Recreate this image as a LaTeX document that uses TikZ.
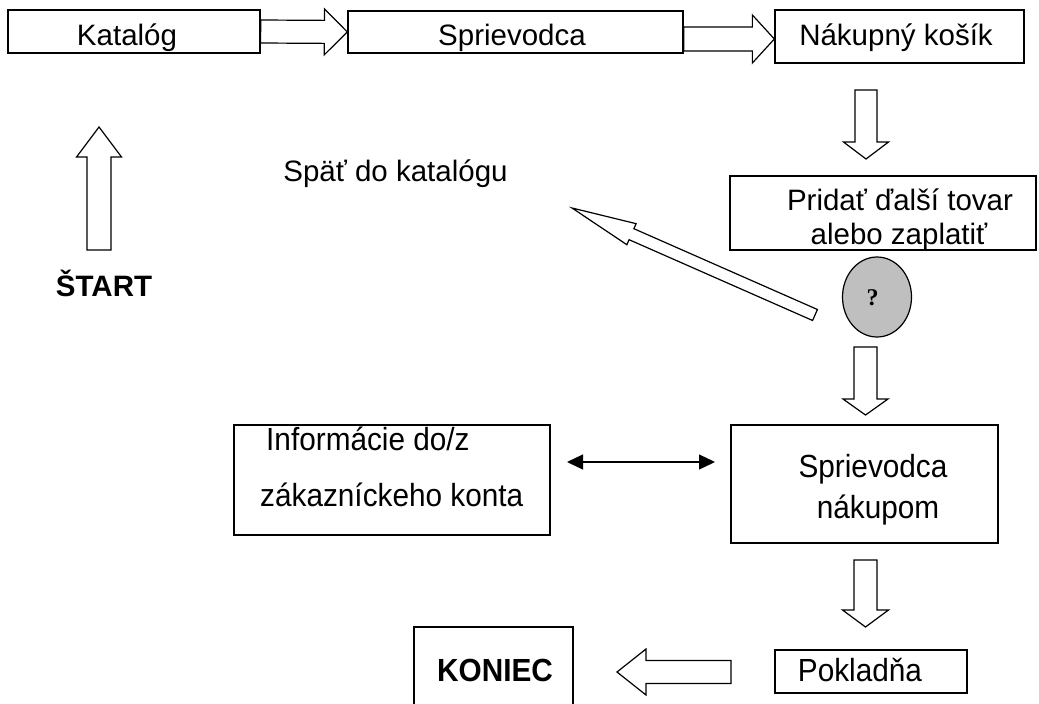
\documentclass[tikz,border=0pt]{standalone}
\usepackage{fontspec}
\setmainfont{Liberation Sans}
\newfontfamily\lowfont[FakeStretch=0.93]{Liberation Sans}
\newfontfamily\qfont{Liberation Serif}
\usetikzlibrary{calc,arrows.meta,shapes.geometric}

\tikzset{
  box/.style={draw, line width=1.3pt, fill=white, inner sep=0pt, rectangle},
  txt/.style={inner sep=0pt, text height=21.1pt, text depth=0pt, font=\fontsize{29.5}{34}\selectfont},
  lowtxt/.style={inner sep=0pt, text height=22.9pt, text depth=0pt, font=\lowfont\fontsize{32}{38}\selectfont},
  barrow/.style={draw, line width=1.2pt, fill=white, line join=miter},
  dblarrow/.style={line width=1.2pt, {Triangle[length=16pt,width=15pt]}-{Triangle[length=16pt,width=15pt]}},
  qnode/.style={ellipse, draw, line width=1.2pt, fill=black!25, inner sep=0pt},
}

% block arrow: from, to, shaft half width, head half width, head length
\newcommand{\blockarr}[5]{%
  \coordinate (hb) at ($(#2)!#5!(#1)$);
  \draw[barrow] ($(#1)!#3!90:(#2)$) -- ($(hb)!#3!90:(#2)$) -- ($(hb)!#4!90:(#2)$) -- (#2)
    -- ($(hb)!#4!-90:(#2)$) -- ($(hb)!#3!-90:(#2)$) -- ($(#1)!#3!-90:(#2)$) -- cycle;
}

\begin{document}
\begin{tikzpicture}[x=1pt,y=-1pt]
\useasboundingbox (0,0) rectangle (1039,704);
\clip (0,0) rectangle (1039,704);

% boxes
\node[box, minimum width=252pt, minimum height=43pt] (kat) at (134,31.5) {};
\node[box, minimum width=335pt, minimum height=42pt] (spr) at (515.5,32) {};
\node[box, minimum width=249pt, minimum height=53pt] (nak) at (899.5,36.5) {};
\node[box, minimum width=306pt, minimum height=74pt] (prid) at (883,213) {};
\node[qnode, minimum width=69pt, minimum height=80pt] (q) at (877,297) {};
\node[box, minimum width=316pt, minimum height=110pt] (info) at (392,480) {};
\node[box, minimum width=267pt, minimum height=118pt] (sprn) at (864.5,484) {};
\node[box, minimum width=192pt, minimum height=43pt] (pok) at (871,671.5) {};
\node[box, minimum width=159pt, minimum height=93pt] (kon) at (493.5,673.5) {};

% texts
\node[txt] (tkat) at (127,35) {Katalóg};
\node[txt] (tspr) at (512,35) {Sprievodca};
\node[txt] (tnak) at (896,35) {Nákupný košík};
\node[txt] (tspat) at (395.5,171) {Späť do katalógu};
\node[txt, font=\bfseries\fontsize{29.5}{34}\selectfont] (tstart) at (104,285.5) {ŠTART};
\node[txt] (tprid1) at (900,200) {Pridať ďalší tovar};
\node[txt] (tprid2) at (899,234) {alebo zaplatiť};
\node[inner sep=0pt, font=\qfont\bfseries\fontsize{24}{28}\selectfont] (tq) at (872.5,297.5) {?};
\node[lowtxt, anchor=west] (tinfo1) at (266,439) {Informácie do/z};
\node[lowtxt, anchor=west] (tinfo2) at (260,495) {zákazníckeho konta};
\node[lowtxt] (tsprn1) at (873,466) {Sprievodca};
\node[lowtxt] (tsprn2) at (878,507) {nákupom};
\node[lowtxt] (tpok) at (860,670) {Pokladňa};
\node[lowtxt, font=\lowfont\bfseries\fontsize{32}{38}\selectfont] (tkon) at (495,670) {KONIEC};

% arrow end points
\coordinate (a2s) at ([yshift=-7pt]spr.east);
\coordinate (a2e) at ([yshift=-2.5pt]nak.west);
\coordinate (a3s) at (866,90);
\coordinate (a3e) at (866,159);
\coordinate (a4s) at (99,250);
\coordinate (a4e) at (99,127);
\coordinate (a5s) at (815,315);
\coordinate (a5e) at (572,208);
\coordinate (a6s) at (865.5,347);
\coordinate (a6e) at (865.5,415);
\coordinate (a7s) at (567,462);
\coordinate (a7e) at (715,462);
\coordinate (a8s) at (865.5,560);
\coordinate (a8e) at (865.5,627);
\coordinate (a9s) at (731,672);
\coordinate (a9e) at (617,672);

% connectors
\blockarr{kat.east}{spr.west}{11.5pt}{23pt}{23pt}
\blockarr{a2s}{a2e}{12pt}{24pt}{22pt}
\blockarr{a3s}{a3e}{11pt}{22.5pt}{17pt}
\blockarr{a4s}{a4e}{12pt}{22.5pt}{30pt}
\blockarr{a5s}{a5e}{6pt}{11.5pt}{65pt}
\blockarr{a6s}{a6e}{11.5pt}{22.5pt}{16pt}
\draw[dblarrow] (a7s) -- (a7e);
\blockarr{a8s}{a8e}{11.5pt}{23pt}{17pt}
\blockarr{a9s}{a9e}{11.5pt}{23pt}{29pt}
\end{tikzpicture}
\end{document}
